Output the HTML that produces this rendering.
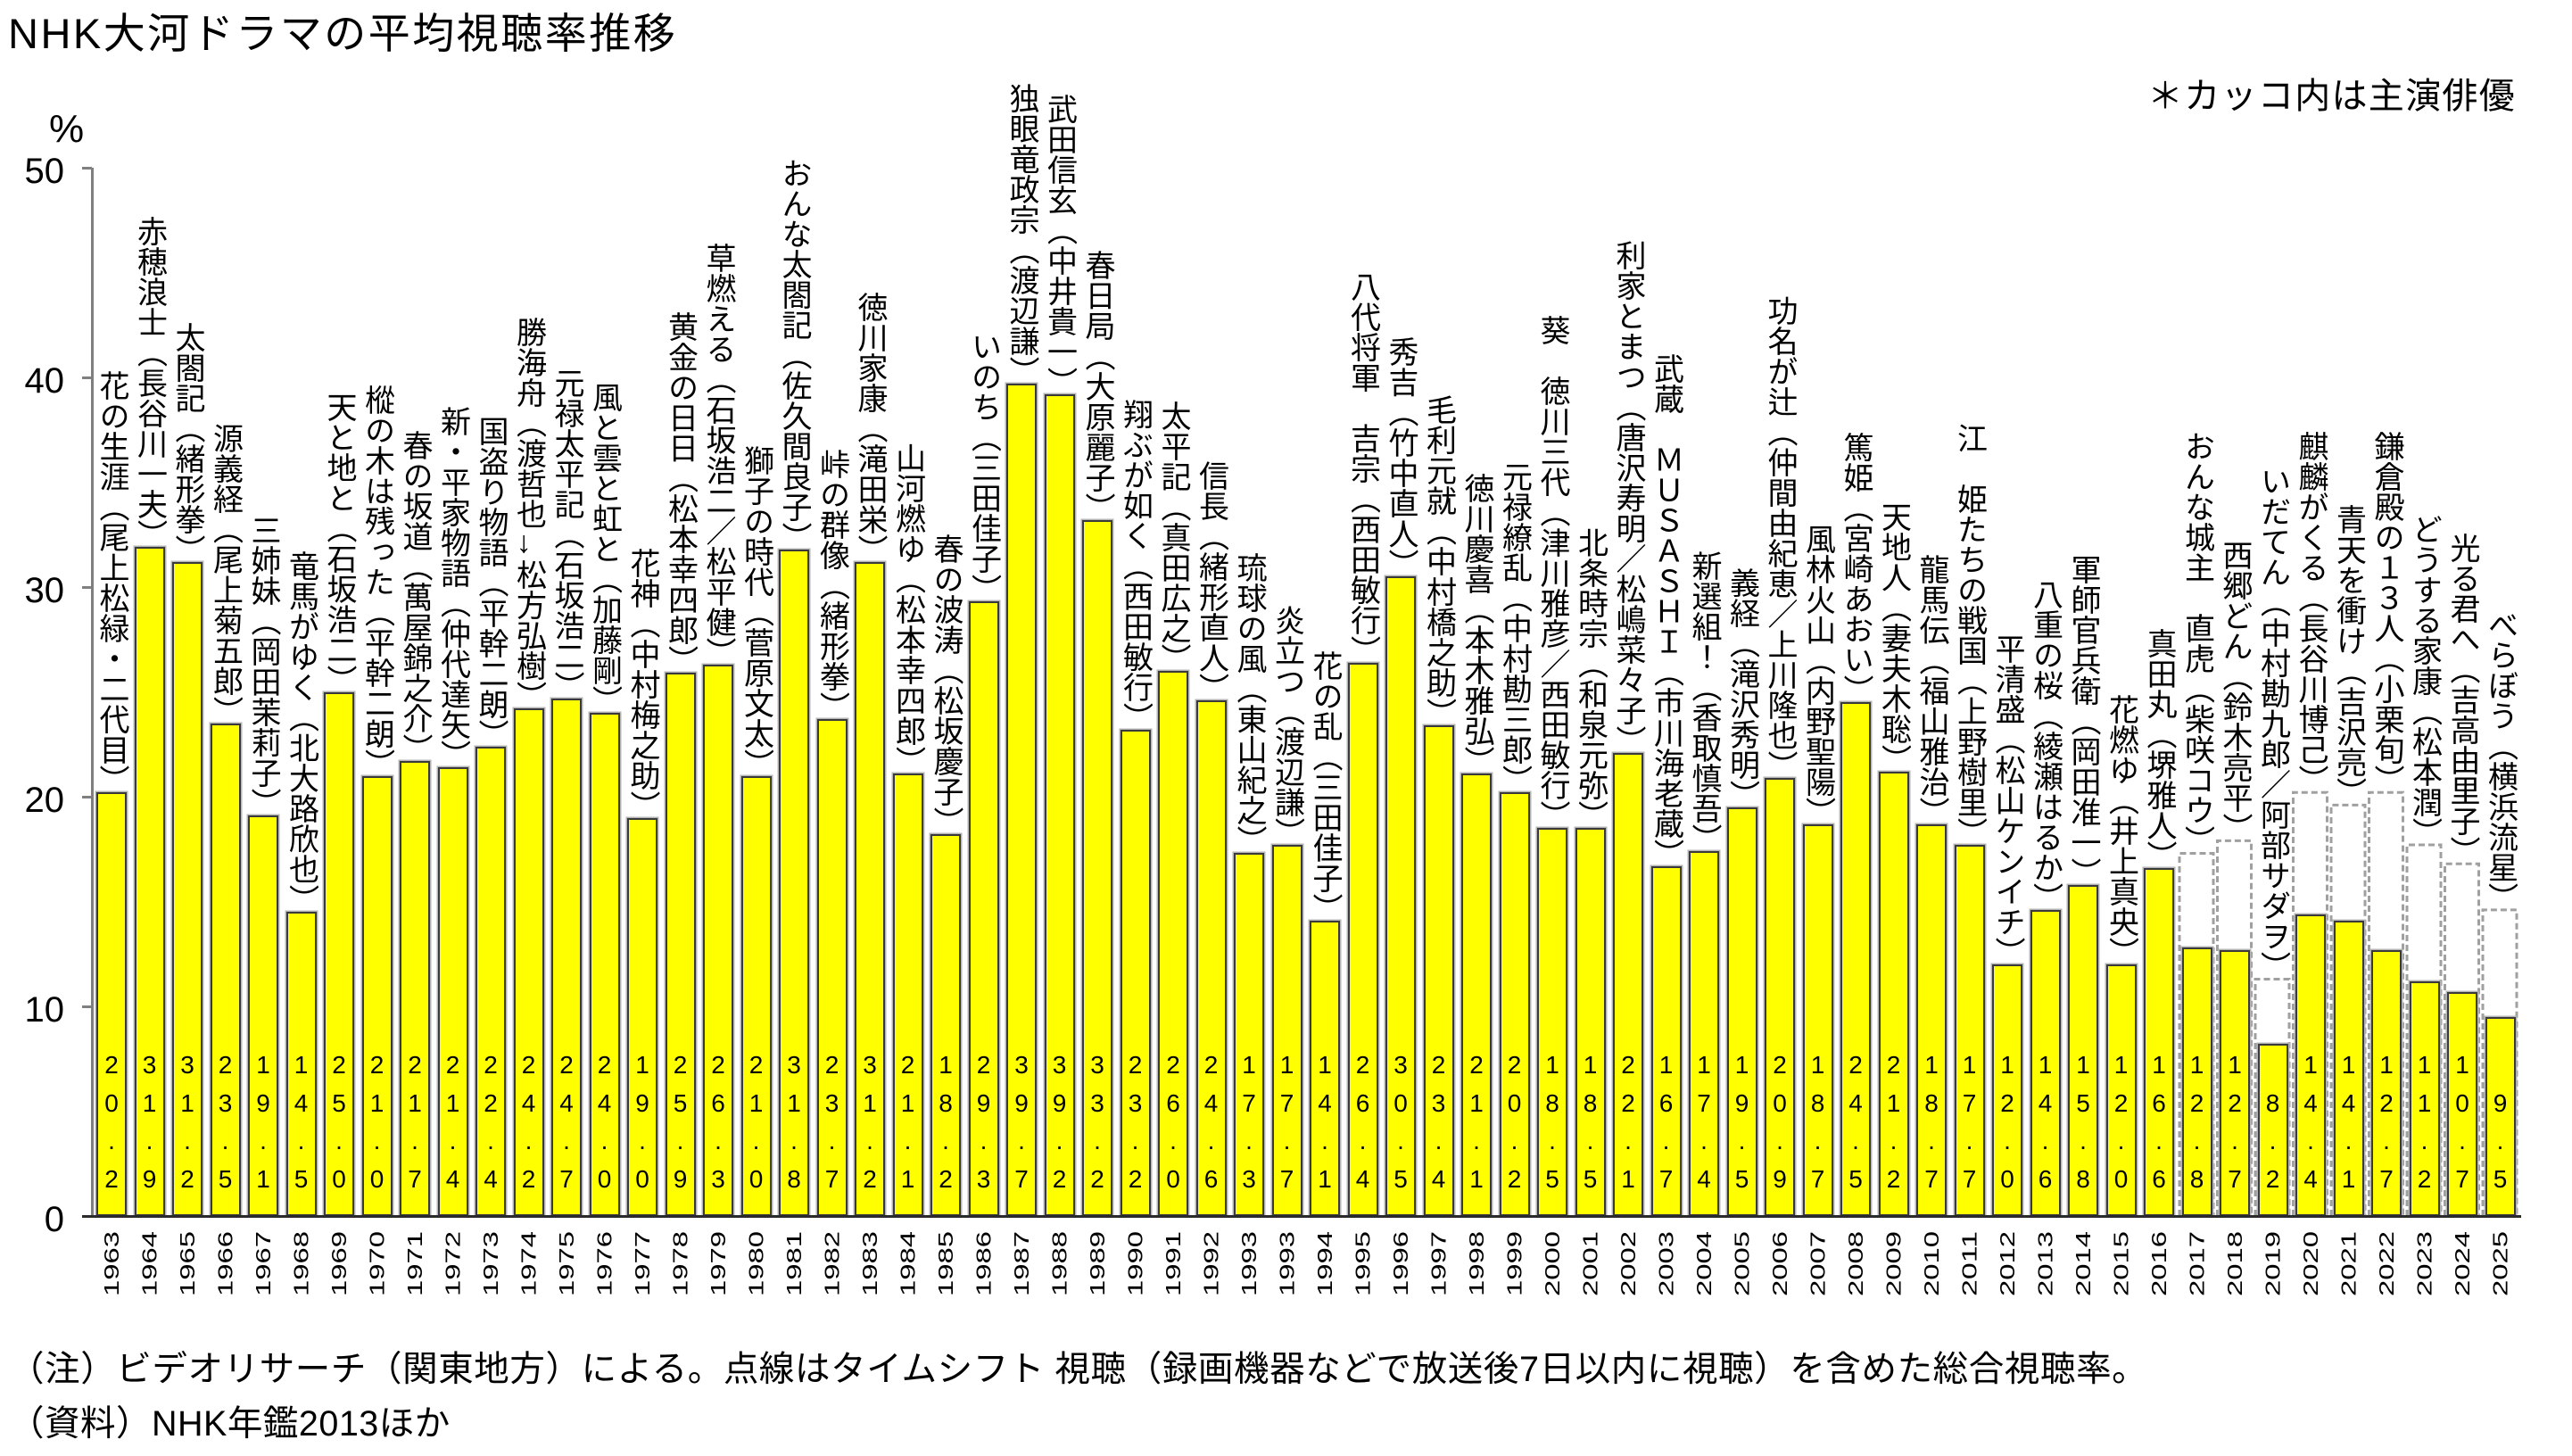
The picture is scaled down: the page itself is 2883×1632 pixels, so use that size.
<!DOCTYPE html>
<html lang="ja">
<head>
<meta charset="utf-8">
<style>
html,body{margin:0;padding:0;background:#fff;}
body{width:2883px;height:1632px;position:relative;overflow:hidden;color:#000;
font-family:"Liberation Sans","Noto Sans CJK JP",sans-serif;}
.t{position:absolute;white-space:nowrap;line-height:1;}
#title{left:9px;top:14px;font-size:47px;letter-spacing:2.5px;}
#note{right:63px;top:88px;font-size:40px;letter-spacing:1.3px;}
#f1{left:10px;top:1516px;font-size:39.5px;letter-spacing:0.6px;}
#f2{left:10px;top:1577px;font-size:39.5px;letter-spacing:0.5px;}
#pct{left:55px;top:123px;font-size:44px;line-height:44px;}
.tk{position:absolute;left:0;width:72px;text-align:right;font-size:40px;line-height:40px;}
.tm{position:absolute;left:92px;width:11px;height:3px;background:#808080;}
#ax{position:absolute;left:102px;top:188px;width:3px;height:1176px;background:#7f7f7f;}
#base{position:absolute;left:92px;top:1362px;width:2734px;height:3px;background:#2b2b2b;}
.c{position:absolute;top:0;height:1363px;width:34px;left:calc(108px + var(--i) * 42.5px);}
.b{position:absolute;left:0;bottom:0;width:34px;height:calc(var(--v) * 23.5px);background:#ffff00;
border:2px solid #3a3a3a;box-sizing:border-box;box-shadow:0 0 0 1.5px #b4b4b4;}
.l{position:absolute;left:50%;transform:translateX(-50%);bottom:calc(var(--a, var(--v)) * 23.5px - 3px);
writing-mode:vertical-rl;font-family:"Liberation Sans","Noto Sans CJK JP",sans-serif;font-size:34px;line-height:36px;white-space:nowrap;}
.n{position:absolute;left:0;bottom:19.75px;width:34px;text-align:center;font-size:28px;line-height:42.5px;}
svg{position:absolute;left:0;top:0;}
</style>
</head>
<body>
<div class="t" id="title">NHK大河ドラマの平均視聴率推移</div>
<div class="t" id="note">＊カッコ内は主演俳優</div>
<div class="t" id="pct">%</div>

<div class="tk" style="top:171.5px">50</div>
<div class="tk" style="top:406.5px">40</div>
<div class="tk" style="top:641.5px">30</div>
<div class="tk" style="top:876.5px">20</div>
<div class="tk" style="top:1111.5px">10</div>
<div class="tk" style="top:1346.5px">0</div>
<div class="tm" style="top:186.5px"></div>
<div class="tm" style="top:421.5px"></div>
<div class="tm" style="top:656.5px"></div>
<div class="tm" style="top:891.5px"></div>
<div class="tm" style="top:1126.5px"></div>
<div id="ax"></div>

<svg width="2883" height="1632" viewBox="0 0 2883 1632">
<g fill="none" stroke="#a0a0a0" stroke-width="3" stroke-dasharray="7 4">
<path d="M2443 1363 V956.5 H2481 V1363"/>
<path d="M2485.5 1363 V942.4 H2523.5 V1363"/>
<path d="M2528 1363 V1097.5 H2566 V1363"/>
<path d="M2570.5 1363 V888.3 H2608.5 V1363"/>
<path d="M2613 1363 V902.4 H2651 V1363"/>
<path d="M2655.5 1363 V888.3 H2693.5 V1363"/>
<path d="M2698 1363 V947 H2736 V1363"/>
<path d="M2740.5 1363 V968.2 H2778.5 V1363"/>
<path d="M2783 1363 V1019.9 H2821 V1363"/>
</g>
</svg>

<div class="c" style="--i:0;--v:20.2"><div class="b"></div><div class="n">2<br>0<br>.<br>2</div><div class="l">花の生涯（尾上松緑・二代目）</div></div>
<div class="c" style="--i:1;--v:31.9"><div class="b"></div><div class="n">3<br>1<br>.<br>9</div><div class="l">赤穂浪士（長谷川一夫）</div></div>
<div class="c" style="--i:2;--v:31.2"><div class="b"></div><div class="n">3<br>1<br>.<br>2</div><div class="l">太閤記（緒形拳）</div></div>
<div class="c" style="--i:3;--v:23.5"><div class="b"></div><div class="n">2<br>3<br>.<br>5</div><div class="l">源義経（尾上菊五郎）</div></div>
<div class="c" style="--i:4;--v:19.1"><div class="b"></div><div class="n">1<br>9<br>.<br>1</div><div class="l">三姉妹（岡田茉莉子）</div></div>
<div class="c" style="--i:5;--v:14.5"><div class="b"></div><div class="n">1<br>4<br>.<br>5</div><div class="l">竜馬がゆく（北大路欣也）</div></div>
<div class="c" style="--i:6;--v:25.0"><div class="b"></div><div class="n">2<br>5<br>.<br>0</div><div class="l">天と地と（石坂浩二）</div></div>
<div class="c" style="--i:7;--v:21.0"><div class="b"></div><div class="n">2<br>1<br>.<br>0</div><div class="l">樅の木は残った（平幹二朗）</div></div>
<div class="c" style="--i:8;--v:21.7"><div class="b"></div><div class="n">2<br>1<br>.<br>7</div><div class="l">春の坂道（萬屋錦之介）</div></div>
<div class="c" style="--i:9;--v:21.4"><div class="b"></div><div class="n">2<br>1<br>.<br>4</div><div class="l">新・平家物語（仲代達矢）</div></div>
<div class="c" style="--i:10;--v:22.4"><div class="b"></div><div class="n">2<br>2<br>.<br>4</div><div class="l">国盗り物語（平幹二朗）</div></div>
<div class="c" style="--i:11;--v:24.2"><div class="b"></div><div class="n">2<br>4<br>.<br>2</div><div class="l">勝海舟（渡哲也→松方弘樹）</div></div>
<div class="c" style="--i:12;--v:24.7"><div class="b"></div><div class="n">2<br>4<br>.<br>7</div><div class="l">元禄太平記（石坂浩二）</div></div>
<div class="c" style="--i:13;--v:24.0"><div class="b"></div><div class="n">2<br>4<br>.<br>0</div><div class="l">風と雲と虹と（加藤剛）</div></div>
<div class="c" style="--i:14;--v:19.0"><div class="b"></div><div class="n">1<br>9<br>.<br>0</div><div class="l">花神（中村梅之助）</div></div>
<div class="c" style="--i:15;--v:25.9"><div class="b"></div><div class="n">2<br>5<br>.<br>9</div><div class="l">黄金の日日（松本幸四郎）</div></div>
<div class="c" style="--i:16;--v:26.3"><div class="b"></div><div class="n">2<br>6<br>.<br>3</div><div class="l">草燃える（石坂浩二／松平健）</div></div>
<div class="c" style="--i:17;--v:21.0"><div class="b"></div><div class="n">2<br>1<br>.<br>0</div><div class="l">獅子の時代（菅原文太）</div></div>
<div class="c" style="--i:18;--v:31.8"><div class="b"></div><div class="n">3<br>1<br>.<br>8</div><div class="l">おんな太閤記（佐久間良子）</div></div>
<div class="c" style="--i:19;--v:23.7"><div class="b"></div><div class="n">2<br>3<br>.<br>7</div><div class="l">峠の群像（緒形拳）</div></div>
<div class="c" style="--i:20;--v:31.2"><div class="b"></div><div class="n">3<br>1<br>.<br>2</div><div class="l">徳川家康（滝田栄）</div></div>
<div class="c" style="--i:21;--v:21.1"><div class="b"></div><div class="n">2<br>1<br>.<br>1</div><div class="l">山河燃ゆ（松本幸四郎）</div></div>
<div class="c" style="--i:22;--v:18.2"><div class="b"></div><div class="n">1<br>8<br>.<br>2</div><div class="l">春の波涛（松坂慶子）</div></div>
<div class="c" style="--i:23;--v:29.3"><div class="b"></div><div class="n">2<br>9<br>.<br>3</div><div class="l">いのち（三田佳子）</div></div>
<div class="c" style="--i:24;--v:39.7"><div class="b"></div><div class="n">3<br>9<br>.<br>7</div><div class="l">独眼竜政宗（渡辺謙）</div></div>
<div class="c" style="--i:25;--v:39.2"><div class="b"></div><div class="n">3<br>9<br>.<br>2</div><div class="l">武田信玄（中井貴一）</div></div>
<div class="c" style="--i:26;--v:33.2"><div class="b"></div><div class="n">3<br>3<br>.<br>2</div><div class="l">春日局（大原麗子）</div></div>
<div class="c" style="--i:27;--v:23.2"><div class="b"></div><div class="n">2<br>3<br>.<br>2</div><div class="l">翔ぶが如く（西田敏行）</div></div>
<div class="c" style="--i:28;--v:26.0"><div class="b"></div><div class="n">2<br>6<br>.<br>0</div><div class="l">太平記（真田広之）</div></div>
<div class="c" style="--i:29;--v:24.6"><div class="b"></div><div class="n">2<br>4<br>.<br>6</div><div class="l">信長（緒形直人）</div></div>
<div class="c" style="--i:30;--v:17.3"><div class="b"></div><div class="n">1<br>7<br>.<br>3</div><div class="l">琉球の風（東山紀之）</div></div>
<div class="c" style="--i:31;--v:17.7"><div class="b"></div><div class="n">1<br>7<br>.<br>7</div><div class="l">炎立つ（渡辺謙）</div></div>
<div class="c" style="--i:32;--v:14.1"><div class="b"></div><div class="n">1<br>4<br>.<br>1</div><div class="l">花の乱（三田佳子）</div></div>
<div class="c" style="--i:33;--v:26.4"><div class="b"></div><div class="n">2<br>6<br>.<br>4</div><div class="l">八代将軍　吉宗（西田敏行）</div></div>
<div class="c" style="--i:34;--v:30.5"><div class="b"></div><div class="n">3<br>0<br>.<br>5</div><div class="l">秀吉（竹中直人）</div></div>
<div class="c" style="--i:35;--v:23.4"><div class="b"></div><div class="n">2<br>3<br>.<br>4</div><div class="l">毛利元就（中村橋之助）</div></div>
<div class="c" style="--i:36;--v:21.1"><div class="b"></div><div class="n">2<br>1<br>.<br>1</div><div class="l">徳川慶喜（本木雅弘）</div></div>
<div class="c" style="--i:37;--v:20.2"><div class="b"></div><div class="n">2<br>0<br>.<br>2</div><div class="l">元禄繚乱（中村勘三郎）</div></div>
<div class="c" style="--i:38;--v:18.5"><div class="b"></div><div class="n">1<br>8<br>.<br>5</div><div class="l">葵　徳川三代（津川雅彦／西田敏行）</div></div>
<div class="c" style="--i:39;--v:18.5"><div class="b"></div><div class="n">1<br>8<br>.<br>5</div><div class="l">北条時宗（和泉元弥）</div></div>
<div class="c" style="--i:40;--v:22.1"><div class="b"></div><div class="n">2<br>2<br>.<br>1</div><div class="l">利家とまつ（唐沢寿明／松嶋菜々子）</div></div>
<div class="c" style="--i:41;--v:16.7"><div class="b"></div><div class="n">1<br>6<br>.<br>7</div><div class="l">武蔵　ＭＵＳＡＳＨＩ（市川海老蔵）</div></div>
<div class="c" style="--i:42;--v:17.4"><div class="b"></div><div class="n">1<br>7<br>.<br>4</div><div class="l">新選組！（香取慎吾）</div></div>
<div class="c" style="--i:43;--v:19.5"><div class="b"></div><div class="n">1<br>9<br>.<br>5</div><div class="l">義経（滝沢秀明）</div></div>
<div class="c" style="--i:44;--v:20.9"><div class="b"></div><div class="n">2<br>0<br>.<br>9</div><div class="l">功名が辻（仲間由紀恵／上川隆也）</div></div>
<div class="c" style="--i:45;--v:18.7"><div class="b"></div><div class="n">1<br>8<br>.<br>7</div><div class="l">風林火山（内野聖陽）</div></div>
<div class="c" style="--i:46;--v:24.5"><div class="b"></div><div class="n">2<br>4<br>.<br>5</div><div class="l">篤姫（宮崎あおい）</div></div>
<div class="c" style="--i:47;--v:21.2"><div class="b"></div><div class="n">2<br>1<br>.<br>2</div><div class="l">天地人（妻夫木聡）</div></div>
<div class="c" style="--i:48;--v:18.7"><div class="b"></div><div class="n">1<br>8<br>.<br>7</div><div class="l">龍馬伝（福山雅治）</div></div>
<div class="c" style="--i:49;--v:17.7"><div class="b"></div><div class="n">1<br>7<br>.<br>7</div><div class="l">江　姫たちの戦国（上野樹里）</div></div>
<div class="c" style="--i:50;--v:12.0"><div class="b"></div><div class="n">1<br>2<br>.<br>0</div><div class="l">平清盛（松山ケンイチ）</div></div>
<div class="c" style="--i:51;--v:14.6"><div class="b"></div><div class="n">1<br>4<br>.<br>6</div><div class="l">八重の桜（綾瀬はるか）</div></div>
<div class="c" style="--i:52;--v:15.8"><div class="b"></div><div class="n">1<br>5<br>.<br>8</div><div class="l">軍師官兵衛（岡田准一）</div></div>
<div class="c" style="--i:53;--v:12.0"><div class="b"></div><div class="n">1<br>2<br>.<br>0</div><div class="l">花燃ゆ（井上真央）</div></div>
<div class="c" style="--i:54;--v:16.6"><div class="b"></div><div class="n">1<br>6<br>.<br>6</div><div class="l">真田丸（堺雅人）</div></div>
<div class="c" style="--i:55;--v:12.8;--a:17.3"><div class="b"></div><div class="n">1<br>2<br>.<br>8</div><div class="l">おんな城主　直虎（柴咲コウ）</div></div>
<div class="c" style="--i:56;--v:12.7;--a:17.9"><div class="b"></div><div class="n">1<br>2<br>.<br>7</div><div class="l">西郷どん（鈴木亮平）</div></div>
<div class="c" style="--i:57;--v:8.2;--a:11.3"><div class="b"></div><div class="n">8<br>.<br>2</div><div class="l">いだてん（中村勘九郎／阿部サダヲ）</div></div>
<div class="c" style="--i:58;--v:14.4;--a:20.2"><div class="b"></div><div class="n">1<br>4<br>.<br>4</div><div class="l">麒麟がくる（長谷川博己）</div></div>
<div class="c" style="--i:59;--v:14.1;--a:19.6"><div class="b"></div><div class="n">1<br>4<br>.<br>1</div><div class="l">青天を衝け（吉沢亮）</div></div>
<div class="c" style="--i:60;--v:12.7;--a:20.2"><div class="b"></div><div class="n">1<br>2<br>.<br>7</div><div class="l">鎌倉殿の１３人（小栗旬）</div></div>
<div class="c" style="--i:61;--v:11.2;--a:17.7"><div class="b"></div><div class="n">1<br>1<br>.<br>2</div><div class="l">どうする家康（松本潤）</div></div>
<div class="c" style="--i:62;--v:10.7;--a:16.8"><div class="b"></div><div class="n">1<br>0<br>.<br>7</div><div class="l">光る君へ（吉高由里子）</div></div>
<div class="c" style="--i:63;--v:9.5;--a:14.6"><div class="b"></div><div class="n">9<br>.<br>5</div><div class="l">べらぼう（横浜流星）</div></div>

<div id="base"></div>

<svg width="2883" height="1632" viewBox="0 0 2883 1632">
<g font-family="Liberation Sans, sans-serif" font-size="23" fill="#000" text-anchor="middle" dominant-baseline="central" lengthAdjust="spacingAndGlyphs">
<text textLength="73" lengthAdjust="spacingAndGlyphs" transform="translate(125,1416.5) rotate(-90)">1963</text>
<text textLength="73" lengthAdjust="spacingAndGlyphs" transform="translate(167.5,1416.5) rotate(-90)">1964</text>
<text textLength="73" lengthAdjust="spacingAndGlyphs" transform="translate(210,1416.5) rotate(-90)">1965</text>
<text textLength="73" lengthAdjust="spacingAndGlyphs" transform="translate(252.5,1416.5) rotate(-90)">1966</text>
<text textLength="73" lengthAdjust="spacingAndGlyphs" transform="translate(295,1416.5) rotate(-90)">1967</text>
<text textLength="73" lengthAdjust="spacingAndGlyphs" transform="translate(337.5,1416.5) rotate(-90)">1968</text>
<text textLength="73" lengthAdjust="spacingAndGlyphs" transform="translate(380,1416.5) rotate(-90)">1969</text>
<text textLength="73" lengthAdjust="spacingAndGlyphs" transform="translate(422.5,1416.5) rotate(-90)">1970</text>
<text textLength="73" lengthAdjust="spacingAndGlyphs" transform="translate(465,1416.5) rotate(-90)">1971</text>
<text textLength="73" lengthAdjust="spacingAndGlyphs" transform="translate(507.5,1416.5) rotate(-90)">1972</text>
<text textLength="73" lengthAdjust="spacingAndGlyphs" transform="translate(550,1416.5) rotate(-90)">1973</text>
<text textLength="73" lengthAdjust="spacingAndGlyphs" transform="translate(592.5,1416.5) rotate(-90)">1974</text>
<text textLength="73" lengthAdjust="spacingAndGlyphs" transform="translate(635,1416.5) rotate(-90)">1975</text>
<text textLength="73" lengthAdjust="spacingAndGlyphs" transform="translate(677.5,1416.5) rotate(-90)">1976</text>
<text textLength="73" lengthAdjust="spacingAndGlyphs" transform="translate(720,1416.5) rotate(-90)">1977</text>
<text textLength="73" lengthAdjust="spacingAndGlyphs" transform="translate(762.5,1416.5) rotate(-90)">1978</text>
<text textLength="73" lengthAdjust="spacingAndGlyphs" transform="translate(805,1416.5) rotate(-90)">1979</text>
<text textLength="73" lengthAdjust="spacingAndGlyphs" transform="translate(847.5,1416.5) rotate(-90)">1980</text>
<text textLength="73" lengthAdjust="spacingAndGlyphs" transform="translate(890,1416.5) rotate(-90)">1981</text>
<text textLength="73" lengthAdjust="spacingAndGlyphs" transform="translate(932.5,1416.5) rotate(-90)">1982</text>
<text textLength="73" lengthAdjust="spacingAndGlyphs" transform="translate(975,1416.5) rotate(-90)">1983</text>
<text textLength="73" lengthAdjust="spacingAndGlyphs" transform="translate(1017.5,1416.5) rotate(-90)">1984</text>
<text textLength="73" lengthAdjust="spacingAndGlyphs" transform="translate(1060,1416.5) rotate(-90)">1985</text>
<text textLength="73" lengthAdjust="spacingAndGlyphs" transform="translate(1102.5,1416.5) rotate(-90)">1986</text>
<text textLength="73" lengthAdjust="spacingAndGlyphs" transform="translate(1145,1416.5) rotate(-90)">1987</text>
<text textLength="73" lengthAdjust="spacingAndGlyphs" transform="translate(1187.5,1416.5) rotate(-90)">1988</text>
<text textLength="73" lengthAdjust="spacingAndGlyphs" transform="translate(1230,1416.5) rotate(-90)">1989</text>
<text textLength="73" lengthAdjust="spacingAndGlyphs" transform="translate(1272.5,1416.5) rotate(-90)">1990</text>
<text textLength="73" lengthAdjust="spacingAndGlyphs" transform="translate(1315,1416.5) rotate(-90)">1991</text>
<text textLength="73" lengthAdjust="spacingAndGlyphs" transform="translate(1357.5,1416.5) rotate(-90)">1992</text>
<text textLength="73" lengthAdjust="spacingAndGlyphs" transform="translate(1400,1416.5) rotate(-90)">1993</text>
<text textLength="73" lengthAdjust="spacingAndGlyphs" transform="translate(1442.5,1416.5) rotate(-90)">1993</text>
<text textLength="73" lengthAdjust="spacingAndGlyphs" transform="translate(1485,1416.5) rotate(-90)">1994</text>
<text textLength="73" lengthAdjust="spacingAndGlyphs" transform="translate(1527.5,1416.5) rotate(-90)">1995</text>
<text textLength="73" lengthAdjust="spacingAndGlyphs" transform="translate(1570,1416.5) rotate(-90)">1996</text>
<text textLength="73" lengthAdjust="spacingAndGlyphs" transform="translate(1612.5,1416.5) rotate(-90)">1997</text>
<text textLength="73" lengthAdjust="spacingAndGlyphs" transform="translate(1655,1416.5) rotate(-90)">1998</text>
<text textLength="73" lengthAdjust="spacingAndGlyphs" transform="translate(1697.5,1416.5) rotate(-90)">1999</text>
<text textLength="73" lengthAdjust="spacingAndGlyphs" transform="translate(1740,1416.5) rotate(-90)">2000</text>
<text textLength="73" lengthAdjust="spacingAndGlyphs" transform="translate(1782.5,1416.5) rotate(-90)">2001</text>
<text textLength="73" lengthAdjust="spacingAndGlyphs" transform="translate(1825,1416.5) rotate(-90)">2002</text>
<text textLength="73" lengthAdjust="spacingAndGlyphs" transform="translate(1867.5,1416.5) rotate(-90)">2003</text>
<text textLength="73" lengthAdjust="spacingAndGlyphs" transform="translate(1910,1416.5) rotate(-90)">2004</text>
<text textLength="73" lengthAdjust="spacingAndGlyphs" transform="translate(1952.5,1416.5) rotate(-90)">2005</text>
<text textLength="73" lengthAdjust="spacingAndGlyphs" transform="translate(1995,1416.5) rotate(-90)">2006</text>
<text textLength="73" lengthAdjust="spacingAndGlyphs" transform="translate(2037.5,1416.5) rotate(-90)">2007</text>
<text textLength="73" lengthAdjust="spacingAndGlyphs" transform="translate(2080,1416.5) rotate(-90)">2008</text>
<text textLength="73" lengthAdjust="spacingAndGlyphs" transform="translate(2122.5,1416.5) rotate(-90)">2009</text>
<text textLength="73" lengthAdjust="spacingAndGlyphs" transform="translate(2165,1416.5) rotate(-90)">2010</text>
<text textLength="73" lengthAdjust="spacingAndGlyphs" transform="translate(2207.5,1416.5) rotate(-90)">2011</text>
<text textLength="73" lengthAdjust="spacingAndGlyphs" transform="translate(2250,1416.5) rotate(-90)">2012</text>
<text textLength="73" lengthAdjust="spacingAndGlyphs" transform="translate(2292.5,1416.5) rotate(-90)">2013</text>
<text textLength="73" lengthAdjust="spacingAndGlyphs" transform="translate(2335,1416.5) rotate(-90)">2014</text>
<text textLength="73" lengthAdjust="spacingAndGlyphs" transform="translate(2377.5,1416.5) rotate(-90)">2015</text>
<text textLength="73" lengthAdjust="spacingAndGlyphs" transform="translate(2420,1416.5) rotate(-90)">2016</text>
<text textLength="73" lengthAdjust="spacingAndGlyphs" transform="translate(2462.5,1416.5) rotate(-90)">2017</text>
<text textLength="73" lengthAdjust="spacingAndGlyphs" transform="translate(2505,1416.5) rotate(-90)">2018</text>
<text textLength="73" lengthAdjust="spacingAndGlyphs" transform="translate(2547.5,1416.5) rotate(-90)">2019</text>
<text textLength="73" lengthAdjust="spacingAndGlyphs" transform="translate(2590,1416.5) rotate(-90)">2020</text>
<text textLength="73" lengthAdjust="spacingAndGlyphs" transform="translate(2632.5,1416.5) rotate(-90)">2021</text>
<text textLength="73" lengthAdjust="spacingAndGlyphs" transform="translate(2675,1416.5) rotate(-90)">2022</text>
<text textLength="73" lengthAdjust="spacingAndGlyphs" transform="translate(2717.5,1416.5) rotate(-90)">2023</text>
<text textLength="73" lengthAdjust="spacingAndGlyphs" transform="translate(2760,1416.5) rotate(-90)">2024</text>
<text textLength="73" lengthAdjust="spacingAndGlyphs" transform="translate(2802.5,1416.5) rotate(-90)">2025</text>
</g>
</svg>

<div class="t" id="f1">（注）ビデオリサーチ（関東地方）による。点線はタイムシフト 視聴（録画機器などで放送後7日以内に視聴）を含めた総合視聴率。</div>
<div class="t" id="f2">（資料）NHK年鑑2013ほか</div>
</body>
</html>
